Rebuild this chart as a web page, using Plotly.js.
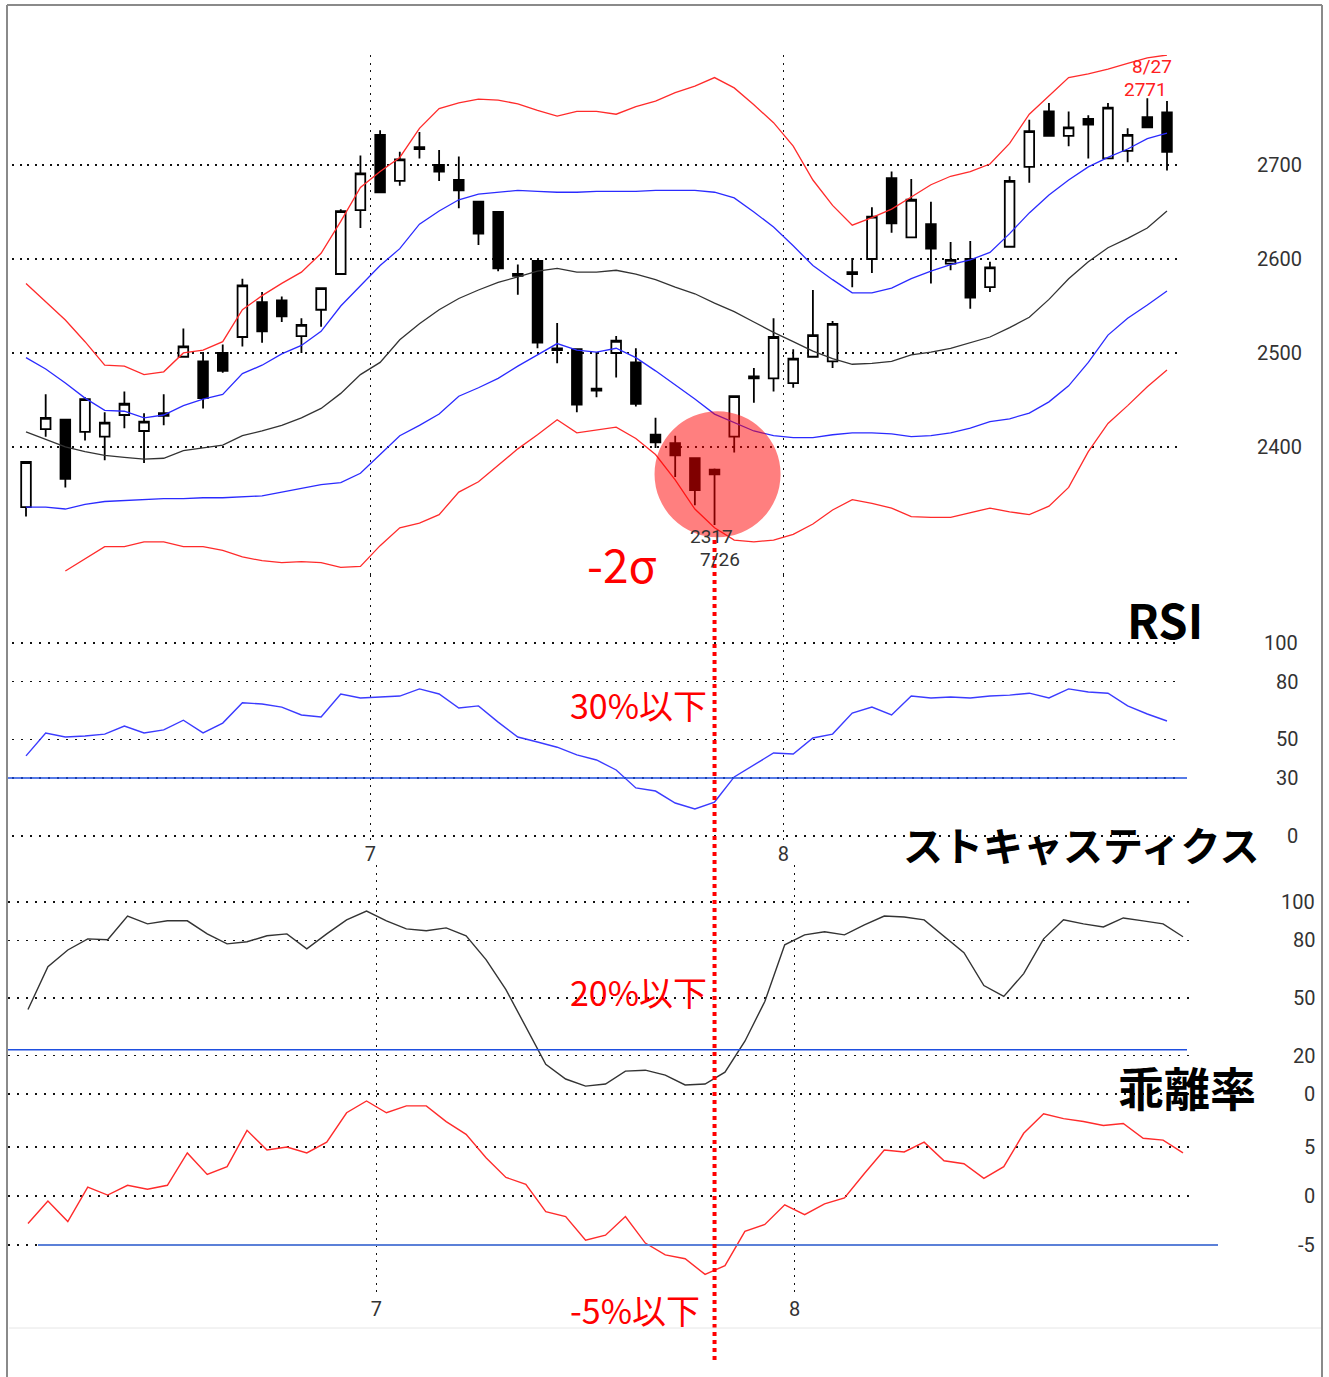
<!DOCTYPE html>
<html><head><meta charset="utf-8">
<script src="https://cdn.plot.ly/plotly-3.0.1.min.js"></script>
<style>html,body{margin:0;padding:0;background:#fff;}#chart{width:1329px;height:1377px;}</style>
</head><body><div id="chart"></div>
<script>
// ---- data ----
const dates = [
 '2018-06-06','2018-06-07','2018-06-08','2018-06-11','2018-06-12','2018-06-13','2018-06-14','2018-06-15',
 '2018-06-18','2018-06-19','2018-06-20','2018-06-21','2018-06-22','2018-06-25','2018-06-26','2018-06-27',
 '2018-06-28','2018-06-29','2018-07-02','2018-07-03','2018-07-04','2018-07-05','2018-07-06','2018-07-09',
 '2018-07-10','2018-07-11','2018-07-12','2018-07-13','2018-07-17','2018-07-18','2018-07-19','2018-07-20',
 '2018-07-23','2018-07-24','2018-07-25','2018-07-26','2018-07-27','2018-07-30','2018-07-31','2018-08-01',
 '2018-08-02','2018-08-03','2018-08-06','2018-08-07','2018-08-08','2018-08-09','2018-08-10','2018-08-13',
 '2018-08-14','2018-08-15','2018-08-16','2018-08-17','2018-08-20','2018-08-21','2018-08-22','2018-08-23',
 '2018-08-24','2018-08-27','2018-08-28'];
const open  = [2336,2419,2429,2416,2411,2434,2417,2436,2496,2491,2500,2517,2554,2556,2518,2546,2584,2652,2732,2683,
               2719,2700,2684,2661,2650,2584,2598,2505,2504,2462,2500,2490,2413,2404,2388,2376,2411,2475,2473,2468,
               2496,2491,2586,2600,2686,2623,2637,2595,2600,2570,2613,2698,2757,2731,2749,2707,2715,2751,2756];
const high  = [2384,2456,2430,2453,2437,2459,2436,2456,2526,2501,2509,2579,2565,2560,2537,2570,2653,2710,2737,2714,
               2735,2716,2709,2661,2650,2594,2598,2532,2504,2501,2518,2505,2431,2412,2388,2377,2454,2484,2537,2504,
               2567,2534,2601,2655,2693,2685,2661,2618,2619,2597,2688,2748,2766,2757,2753,2766,2739,2771,2768];
const low   = [2326,2411,2357,2407,2386,2420,2383,2423,2496,2441,2479,2507,2511,2533,2500,2528,2583,2633,2671,2678,
               2707,2683,2654,2615,2587,2562,2505,2489,2437,2453,2474,2443,2399,2368,2338,2317,2394,2447,2459,2463,
               2496,2484,2570,2585,2628,2623,2574,2588,2547,2565,2613,2681,2731,2720,2707,2707,2703,2740,2694];
const close = [2384,2431,2366,2451,2426,2446,2427,2433,2507,2452,2481,2572,2523,2539,2530,2569,2651,2691,2671,2706,
               2717,2693,2673,2627,2590,2582,2511,2503,2445,2460,2513,2446,2405,2391,2354,2371,2454,2473,2517,2494,
               2519,2531,2584,2645,2638,2663,2611,2599,2559,2591,2683,2736,2731,2740,2743,2761,2732,2740,2714];
const bbUpper2 = [2574,2554,2535,2512,2487,2486,2477,2480,2500,2503,2512,2546,2561,2574,2586,2606,2640,2676,2693,2708,
                  2739,2760,2766,2770,2769,2765,2758,2752,2757,2757,2754,2762,2768,2777,2784,2793,2782,2764,2745,2720,
                  2684,2657,2636,2644,2653,2666,2679,2688,2693,2701,2723,2754,2774,2793,2797,2802,2808,2814,2817];
const bbUpper1 = [2495,2483,2468,2452,2439,2438,2431,2434,2444,2451,2456,2478,2487,2499,2508,2523,2550,2572,2593,2611,
                  2637,2651,2663,2669,2671,2673,2672,2671,2671,2672,2672,2672,2673,2673,2673,2671,2665,2650,2634,2614,
                  2593,2578,2564,2564,2569,2579,2587,2594,2599,2607,2627,2649,2668,2684,2698,2708,2717,2728,2734];
const bbMid    = [2416,2408,2400,2395,2391,2389,2387,2388,2396,2399,2402,2412,2417,2423,2431,2441,2457,2477,2490,2514,
                  2531,2546,2558,2567,2575,2581,2587,2590,2586,2586,2588,2584,2578,2570,2563,2553,2544,2533,2522,2512,
                  2502,2494,2488,2489,2491,2498,2501,2505,2511,2517,2527,2538,2557,2579,2597,2612,2622,2633,2651];
const bbLower1 = [2336,2336,2334,2339,2342,2343,2344,2345,2345,2346,2346,2347,2348,2352,2356,2360,2362,2372,2392,2412,
                  2423,2435,2454,2463,2473,2486,2498,2510,2503,2501,2505,2495,2481,2466,2451,2435,2426,2417,2412,2410,
                  2410,2413,2415,2415,2414,2411,2412,2415,2420,2427,2430,2436,2448,2465,2490,2519,2537,2551,2566];
const bbLower2 = [null,null,2268,2281,2294,2294,2299,2299,2294,2294,2290,2283,2279,2277,2278,2277,2272,2273,2295,2314,
                  2319,2328,2352,2363,2381,2398,2413,2429,2415,2418,2421,2409,2392,2365,2334,2314,2301,2299,2301,2307,
                  2318,2333,2344,2340,2335,2326,2325,2325,2330,2335,2331,2328,2337,2357,2395,2425,2444,2464,2482];
const rsi = [41.5,53.4,51.3,51.8,52.8,57,53.4,55,60,53.4,58.5,69,68.4,66.8,62.7,61.7,73.6,71.5,72,72.5,
             76.2,73.6,66.3,67.4,59,51.3,48.7,46,42,39.4,34.2,24.9,23.3,17.1,14,17.6,30.6,36.8,43,42.5,
             50.8,52.8,63.7,66.8,62.7,72.5,71.5,72,71.5,72.5,73,74,71.5,76.2,74.6,74,67.4,63.2,59.6];
const stoch = [44,66.3,75,80.8,80.3,92.7,88.6,90.2,90.2,83.4,78.2,79.3,82.4,83.4,75.6,83.4,90.7,95.3,90.2,86,
               85,86.5,82.4,70,54.4,35.2,15.5,7.8,4.1,5.2,11.9,12.4,9.8,4.7,5.2,11.4,27.5,48.2,77.7,82.9,
               84.5,82.9,88.1,92.7,92.2,90.7,81.9,73.6,56.5,50.8,62.7,80.8,90.7,88.6,87,91.7,90.2,88.6,81.9];
const deviation = [-2.8,-0.5,-2.6,0.9,0.1,1.1,0.7,1.1,4.4,2.2,3.0,6.7,4.7,5.0,4.4,5.5,8.5,9.7,8.5,9.2,
                   9.2,7.6,6.3,3.9,1.9,1.2,-1.6,-2.1,-4.5,-4.0,-2.1,-4.8,-6.0,-6.4,-8.0,-7.1,-3.6,-2.9,-0.9,-1.9,
                   -0.8,-0.2,2.3,4.7,4.5,5.5,3.6,3.3,1.8,3.0,6.4,8.4,7.9,7.6,7.2,7.4,5.9,5.7,4.4];
const priceTicks = [2400,2500,2600,2700];
const rsiTicks = [0,30,50,80,100];
const stochTicks = [0,20,50,80,100];
const devTicks = [-5,0,5];
const rsiThreshold = 30, stochThreshold = 23, devThreshold = -5;
const lowDate = '2018-07-26', lowLabel = '7/26';
const highDate = '2018-08-27', highLabel = '8/27';
const panelTitles = {rsi:'RSI', stoch:'ストキャスティクス', dev:'乖離率'};
const notes = {sigma:'-2σ', rsi:'30%以下', stoch:'20%以下', dev:'-5%以下'};

// ---- helpers ----
const W = 1329, H = 1377;
const px = v => v / W;
const py = v => 1 - v / H;
const idx = dates.map((d, i) => i);
const monthVals = [], monthText = [];
for (let i = 1; i < dates.length; i++) {
  const m0 = dates[i-1].slice(5,7), m1 = dates[i].slice(5,7);
  if (m0 !== m1) { monthVals.push(i - 0.5); monthText.push(String(parseInt(m1, 10))); }
}
const iLow = dates.indexOf(lowDate), iHigh = dates.indexOf(highDate);
const NARROW = 'Roboto, "Liberation Sans", sans-serif';
const JP = '"Noto Sans CJK JP", "Noto Sans", sans-serif';
const tickFont = {family: NARROW, size: 20, color: '#333'};

function band(y, color) {
  return {type:'scatter', mode:'lines', x: idx, y: y, xaxis:'x', yaxis:'y',
          line:{color: color, width: 1.3}, hoverinfo:'skip', showlegend:false, connectgaps:false};
}
const traces = [
  {type:'candlestick', x: idx, open: open, high: high, low: low, close: close, xaxis:'x', yaxis:'y',
   increasing:{line:{color:'#000', width:1.8}, fillcolor:'#fff'},
   decreasing:{line:{color:'#000', width:1.8}, fillcolor:'#000'},
   hoverinfo:'skip', showlegend:false},
  band(bbUpper2, '#ff2b2b'), band(bbUpper1, '#2b2bff'), band(bbMid, '#333333'),
  band(bbLower1, '#2b2bff'), band(bbLower2, '#ff2b2b'),
  {type:'scatter', mode:'lines', x: idx, y: rsi, xaxis:'x', yaxis:'y2', line:{color:'#3b3bff', width:1.4}, hoverinfo:'skip', showlegend:false},
  {type:'scatter', mode:'lines', x: idx, y: stoch, xaxis:'x2', yaxis:'y3', line:{color:'#333', width:1.4}, hoverinfo:'skip', showlegend:false},
  {type:'scatter', mode:'lines', x: idx, y: deviation, xaxis:'x2', yaxis:'y4', line:{color:'#ff2b2b', width:1.4}, hoverinfo:'skip', showlegend:false}
];

const gridH = {showgrid:true, gridcolor:'#111', gridwidth:1.5, griddash:'2px,5.5px', zeroline:false, showline:false, ticks:'', showticklabels:false, fixedrange:true};
const gridV = {showgrid:true, gridcolor:'#111', gridwidth:1.5, griddash:'2px,5.5px', zeroline:false, showline:false, ticks:'',
               tickvals: monthVals, ticktext: monthText, tickfont: tickFont, fixedrange:true, rangeslider:{visible:false}};

const annotations = [];
function tickAnn(vals, yref, x, anchor) {
  vals.forEach(v => annotations.push({xref:'paper', yref: yref, x: x, y: v, xanchor: anchor, yanchor:'middle',
    text: String(v), showarrow:false, font: tickFont}));
}
tickAnn(priceTicks, 'y', px(1255), 'left');
tickAnn(rsiTicks, 'y2', px(1300), 'right');
tickAnn(stochTicks, 'y3', px(1317), 'right');
tickAnn(devTicks, 'y4', px(1317), 'right');
const smallFont = c => ({family:NARROW, size:19, color:c});
annotations.push({xref:'x', yref:'y', x: iLow, y: low[iLow], text: String(low[iLow]), showarrow:false, yshift:-12, xshift:-3, font: smallFont('#333')});
annotations.push({xref:'x', yref:'y', x: iLow, y: low[iLow], text: lowLabel, showarrow:false, yshift:-35, xshift:5, font: smallFont('#333')});
annotations.push({xref:'x', yref:'y', x: iHigh, y: high[iHigh], text: String(high[iHigh]), showarrow:false, yshift:9, xshift:-2, font: smallFont('#ff2020')});
annotations.push({xref:'x', yref:'y', x: iHigh, y: high[iHigh], text: highLabel, showarrow:false, yshift:32, xshift:5, font: smallFont('#ff2020')});
function big(text, x, y, size, color, weight) {
  annotations.push({xref:'paper', yref:'paper', x: px(x), y: py(y), xanchor:'center', yanchor:'middle',
    text: text, showarrow:false, font:{family: JP, size: size, color: color, weight: weight || 'normal'}});
}
big(notes.sigma, 622, 563, 46, '#ff0000');
big(notes.rsi, 638, 704, 34, '#ff0000');
big(notes.stoch, 638, 991, 34, '#ff0000');
big(notes.dev, 635, 1309, 34, '#ff0000');
big(panelTitles.rsi, 1165, 618, 47, '#000', 'bold');
big(panelTitles.stoch, 1081, 844, 40, '#000', 'bold');
big(panelTitles.dev, 1187, 1086, 46, '#000', 'bold');

const shapes = [
  {type:'line', xref:'paper', yref:'y2', x0: px(7), x1: px(1187), y0: rsiThreshold, y1: rsiThreshold, line:{color:'#1f4fe0', width:1.5}},
  {type:'line', xref:'paper', yref:'y3', x0: px(7), x1: px(1187), y0: stochThreshold, y1: stochThreshold, line:{color:'#1f4fe0', width:1.5}},
  {type:'line', xref:'paper', yref:'y4', x0: px(38), x1: px(1218), y0: devThreshold, y1: devThreshold, line:{color:'#5b80d8', width:2}},
  {type:'circle', xref:'x', yref:'y', xsizemode:'pixel', ysizemode:'pixel', xanchor: iLow, yanchor: close[iLow],
   x0:-60, x1:66, y0:-63, y1:63, fillcolor:'rgba(255,0,0,0.5)', line:{width:0}, layer:'above'},
  {type:'line', xref:'x', yref:'paper', x0: iLow, x1: iLow, y0: py(540), y1: py(1362), line:{color:'#ff0000', width:4, dash:'4px,4px'}, layer:'above'},
  {type:'line', xref:'paper', yref:'paper', x0: px(7), x1: px(7), y0: py(5), y1: 0, line:{color:'#8a8a8a', width:2}},
  {type:'line', xref:'paper', yref:'paper', x0: px(7), x1: px(1322), y0: py(5), y1: py(5), line:{color:'#8a8a8a', width:2}},
  {type:'line', xref:'paper', yref:'paper', x0: px(1322), x1: px(1322), y0: py(5), y1: 0, line:{color:'#8a8a8a', width:2}},
  {type:'line', xref:'paper', yref:'paper', x0: px(9), x1: px(1321), y0: py(1328), y1: py(1328), line:{color:'#e6e6e6', width:1}}
];

const layout = {
  width: W, height: H, margin:{l:0, r:0, t:0, b:0}, paper_bgcolor:'#fff', plot_bgcolor:'rgba(0,0,0,0)',
  showlegend:false, hovermode:false, dragmode:false,
  xaxis: Object.assign({}, gridV, {domain:[px(12), px(1180)], range:[-0.712, 58.661], anchor:'y2'}),
  xaxis2: Object.assign({}, gridV, {domain:[px(8), px(1195)], range:[-1.004, 58.602], anchor:'y4'}),
  yaxis: Object.assign({}, gridH, {domain:[py(575), py(55)], range:[2263.8, 2817], anchor:'x', tickvals: priceTicks}),
  yaxis2: Object.assign({}, gridH, {domain:[py(840), py(575)], range:[-2.07, 135.23], anchor:'x', tickvals: rsiTicks, griddash:'2px,7px'}),
  yaxis3: Object.assign({}, gridH, {domain:[py(1095), py(865)], range:[-0.52, 119.27], anchor:'x2', tickvals: stochTicks, griddash:'2px,7px'}),
  yaxis4: Object.assign({}, gridH, {domain:[py(1295), py(1095)], range:[-10.10, 10.31], anchor:'x2', tickvals: devTicks, griddash:'2px,7px'}),
  shapes: shapes, annotations: annotations
};
Plotly.newPlot('chart', traces, layout, {staticPlot:true, displayModeBar:false});
</script></body></html>
